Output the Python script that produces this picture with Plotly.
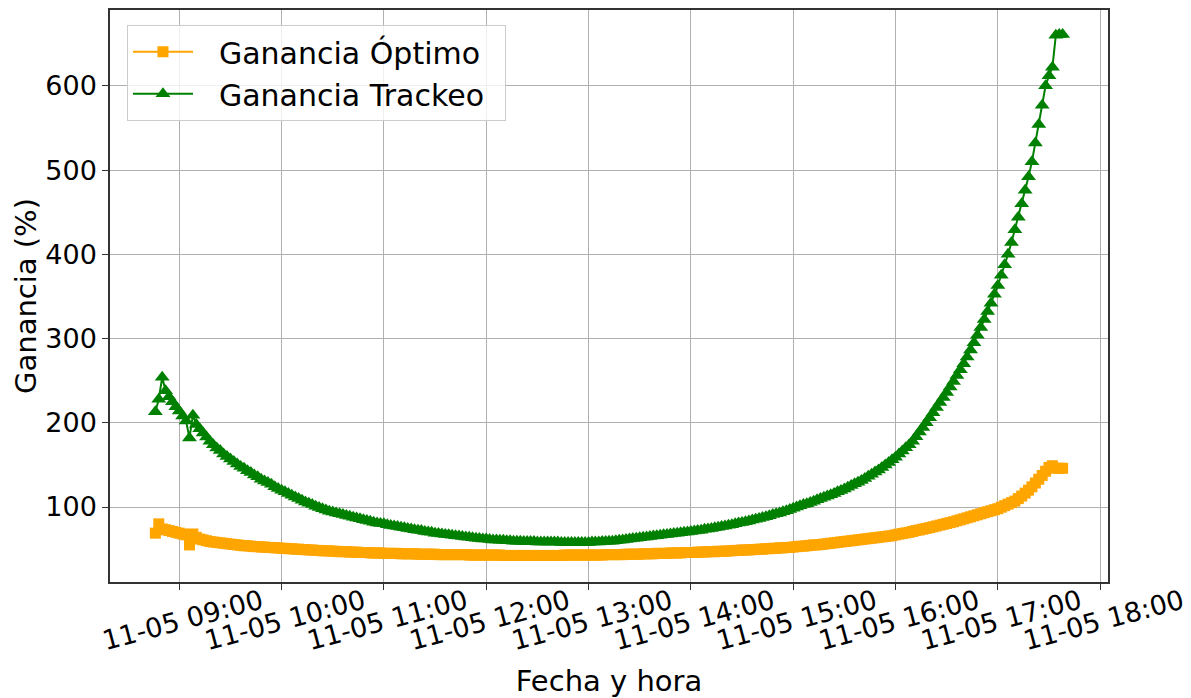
import pandas as pd
import plotly.graph_objects as go

# ─── datos (cada 2 minutos, 11-05 08:46 → 17:38) ───
fecha_inicio = "2019-11-05 08:46"
fecha_fin = "2019-11-05 17:38"
paso = "2min"

ganancia_optimo = [
    69, 80, 74, 73, 72, 71, 70,
    # 09:00
    69, 68, 67, 55, 68, 64, 62, 61, 60, 59,
    58.5, 58, 57.5, 57, 56.5, 56, 55.5, 55, 54.5, 54,
    54, 53.5, 53, 53, 52.5, 52.5, 52, 52, 51.5, 51.5,
    # 10:00
    51, 51, 50.5, 50.5, 50, 50, 49.5, 49.5, 49, 49,
    48.5, 48.5, 48, 48, 48, 47.5, 47.5, 47, 47, 47,
    46.5, 46.5, 46.5, 46, 46, 46, 45.5, 45.5, 45.5, 45.5,
    # 11:00
    45, 45, 45, 45, 45, 44.5, 44.5, 44.5, 44.5, 44.5,
    44, 44, 44, 44, 44, 44, 43.5, 43.5, 43.5, 43.5,
    43.5, 43.5, 43.5, 43.5, 43.5, 43, 43, 43, 43, 43,
    # 12:00
    43, 43, 43, 43, 43, 42.5, 42.5, 42.5, 42.5, 42.5,
    42.5, 42.5, 42.5, 42.5, 42.5, 42.5, 42.5, 42.5, 42.5, 42.5,
    42.5, 42.5, 42.5, 43, 43, 43, 43, 43, 43, 43,
    # 13:00
    43, 43, 43, 43, 43, 43.5, 43.5, 43.5, 43.5, 43.5,
    43.5, 44, 44, 44, 44, 44, 44.5, 44.5, 44.5, 44.5,
    45, 45, 45, 45, 45.5, 45.5, 45.5, 45.5, 46, 46,
    # 14:00
    46, 46, 46.5, 46.5, 46.5, 47, 47, 47, 47.5, 47.5,
    47.5, 48, 48, 48.5, 48.5, 49, 49, 49, 49.5, 49.5,
    50, 50, 50.5, 50.5, 51, 51, 51.5, 51.5, 52, 52,
    # 15:00
    52.5, 53, 53.5, 53.5, 54, 54.5, 55, 55, 55.5, 56,
    56.5, 57, 57.5, 58, 58.5, 59, 59.5, 60, 60.5, 61,
    61.5, 62, 62.5, 63, 63.5, 64, 64.5, 65, 65.5, 66,
    # 16:00
    67, 67.8, 68.5, 69.3, 70, 71, 72, 72.8, 73.7, 74.6,
    75.5, 76.5, 77.5, 78.5, 79.5, 80.5, 81.5, 82.5, 83.7, 84.8,
    86, 87.2, 88.4, 89.6, 90.8, 92, 93.2, 94.4, 95.6, 96.8,
    # 17:00
    98, 99.8, 101.6, 103.4, 105.2, 107, 110, 113, 116.5, 120,
    124, 128.5, 133, 137.5, 142.5, 147, 149, 146, 146, 146,
]

ganancia_trackeo = [
    213, 228, 254, 238, 231, 225, 219,
    # 09:00
    214, 208, 202, 182, 209, 198, 193, 188, 183, 178,
    174, 170, 167, 163, 160, 157, 154, 151, 148, 146,
    143, 141, 138, 136, 133, 131, 129, 127, 124, 122,
    # 10:00
    120, 118, 116, 114, 112, 110, 108, 106, 104.5, 103,
    101, 99.5, 98, 96.5, 95, 94, 93, 92, 91, 90,
    89, 88, 87, 86, 85, 84, 83, 82, 81, 80.5,
    # 11:00
    80, 79, 78, 77.5, 77, 76, 75.5, 74.5, 74, 73,
    72.5, 72, 71, 70.5, 70, 69, 68.5, 68, 67.5, 67,
    66.5, 66, 65.5, 65, 64.5, 64, 63.5, 63, 62.5, 62,
    # 12:00
    62, 61.5, 61, 61, 60.5, 60.5, 60, 60, 59.5, 59.5,
    59.5, 59, 59, 59, 59, 58.5, 58.5, 58.5, 58.5, 58.5,
    58.5, 58.5, 58, 58, 58, 58, 58, 58, 58, 58,
    # 13:00
    58, 58.5, 58.5, 58.5, 59, 59, 59.5, 59.5, 60, 60.5,
    61, 61.5, 62, 62.5, 63, 63.5, 64, 64.5, 65, 65.5,
    66, 66.5, 67, 67.5, 68, 68.5, 69, 69.5, 70, 70.5,
    # 14:00
    71, 71.5, 72, 72.5, 73.5, 74, 74.5, 75.5, 76, 77,
    77.5, 78.5, 79, 80, 81, 81.5, 82.5, 83.5, 84.5, 85.5,
    86.5, 87.5, 88.5, 89.5, 91, 92, 93, 94.5, 95.5, 97,
    # 15:00
    98.5, 100, 101.5, 103, 104, 105.5, 107, 108.5, 110, 111.5,
    113, 114.5, 116, 118, 119.5, 121.5, 123.5, 125.5, 127.5, 129.5,
    131.5, 134, 136.5, 139, 141.5, 144, 147, 150, 153, 156,
    # 16:00
    159, 163, 166.5, 170.5, 174, 178, 183.5, 189, 194.5, 200,
    206, 212, 218, 224, 230, 236, 242.5, 249, 256, 263,
    270, 278, 286.5, 295, 304, 313, 322.5, 332, 342, 352.5,
    # 17:00
    363, 375, 387.5, 400, 414, 429, 444, 460, 476, 492,
    510, 532, 554, 577, 600, 612, 622, 660, 661, 661,
]

fechas = pd.date_range(fecha_inicio, fecha_fin, freq=paso)

FUENTE = "DejaVu Sans"
SEP = "\u2002\u2009"  # hueco entre símbolo y texto de la leyenda
COLA = "\u2002"       # relleno a la derecha del texto de la leyenda

fig = go.Figure()

# Ganancia óptimo
fig.add_trace(go.Scatter(
    x=fechas,
    y=ganancia_optimo,
    mode="lines+markers",
    name=SEP + "Ganancia Óptimo" + COLA,
    line=dict(color="orange", width=2),
    marker=dict(symbol="square", size=11, color="orange"),
))

# Ganancia trackeo
fig.add_trace(go.Scatter(
    x=fechas,
    y=ganancia_trackeo,
    mode="lines+markers",
    name=SEP + "Ganancia Trackeo" + COLA,
    line=dict(color="green", width=2),
    marker=dict(symbol="triangle-up", size=13, color="green"),
))

# la página deja 8 px de margen en el body: se compensa aquí
fig.update_layout(
    width=1183,
    height=690,
    margin=dict(l=102, r=83, t=2, b=116, autoexpand=False),
    paper_bgcolor="white",
    plot_bgcolor="white",
    font=dict(family=FUENTE, size=27, color="black"),
    showlegend=True,
    legend=dict(
        x=0.017, y=0.974, xanchor="left", yanchor="top",
        bgcolor="rgba(255,255,255,0.8)",
        bordercolor="#cccccc", borderwidth=1,
        font=dict(family=FUENTE, size=30, color="black"),
        itemwidth=60,
    ),
)

fig.update_xaxes(
    type="date",
    range=["2019-11-05 08:19:24", "2019-11-05 18:04:36"],
    dtick=3600000,
    tickformat="%m-%d %H:%M",
    tickangle=-15,
    ticklabelshift=82,
    ticklabelstandoff=-14,
    ticks="outside", ticklen=6, tickwidth=1.2, tickcolor="#333333",
    showgrid=True, gridcolor="#b0b0b0", gridwidth=1,
    showline=True, linecolor="#333333", linewidth=1.5, mirror=True,
    zeroline=False, automargin=False,
    title=dict(text="Fecha y hora", font=dict(size=29), standoff=25),
)

fig.update_yaxes(
    range=[11, 690],
    tick0=0, dtick=100,
    ticks="outside", ticklen=6, tickwidth=1.2, tickcolor="#333333",
    showgrid=True, gridcolor="#b0b0b0", gridwidth=1,
    showline=True, linecolor="#333333", linewidth=1.5, mirror=True,
    zeroline=False, automargin=False,
    title=dict(text="Ganancia (%)", font=dict(size=29), standoff=0),
)

fig.write_html("out.html")
